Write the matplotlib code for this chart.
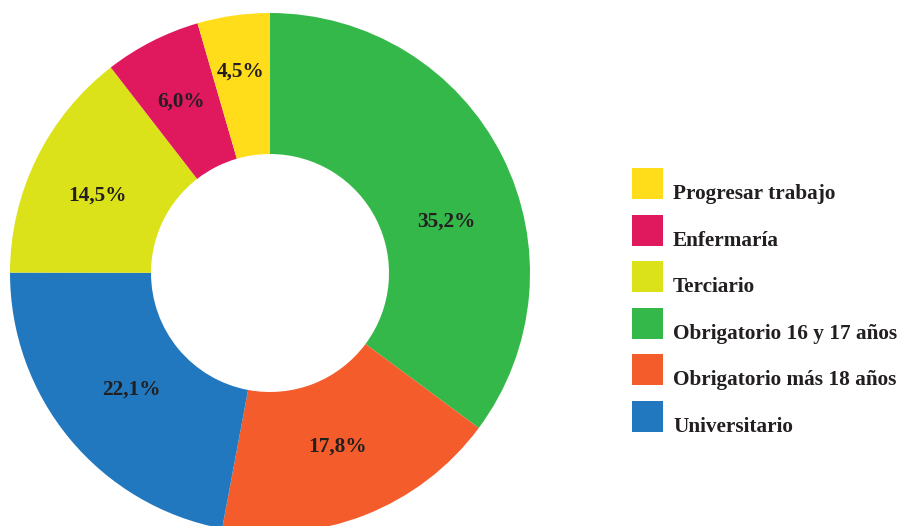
import matplotlib
matplotlib.use("Agg")
import matplotlib.pyplot as plt
from matplotlib.patches import Rectangle
import numpy as np

# ---- data ----
categories = ["Obrigatorio 16 y 17 años", "Obrigatorio más 18 años", "Universitario",
              "Terciario", "Enfermaría", "Progresar trabajo"]
values = [35.2, 17.8, 22.1, 14.5, 6.0, 4.5]
pct_labels = ["35,2%", "17,8%", "22,1%", "14,5%", "6,0%", "4,5%"]
colors = ["#35B84A", "#F55C2C", "#2178BE", "#DCE21A", "#E0195F", "#FFDD1A"]
legend_order = ["Progresar trabajo", "Enfermaría", "Terciario",
                "Obrigatorio 16 y 17 años", "Obrigatorio más 18 años", "Universitario"]

W, H = 899, 526
fig = plt.figure(figsize=(W / 100, H / 100), dpi=100)
plt.rcParams['font.family'] = ['Liberation Serif', 'DejaVu Serif']
txt_color = "#231F20"

# pie axes: centre at (270, 273) px from top, radius 260 px
cx, cy, R = 270, 273, 260
ax = fig.add_axes([(cx - R) / W, (H - cy - R) / H, 2 * R / W, 2 * R / H])
ax.axis("off")

wedges, _ = ax.pie(values, colors=colors, startangle=90, counterclock=False,
                   radius=1.0, wedgeprops=dict(width=1 - 119 / 260, linewidth=0),
                   normalize=True)
ax.set_xlim(-1, 1)
ax.set_ylim(-1, 1)
ax.set_aspect("auto")

# percentage labels
ang_shift = [-10, 0, 0, 1.5, 0, 0]
rad = [0.71, 0.71, 0.69, 0.73, 0.75, 0.79]
for w, lab, s, r in zip(wedges, pct_labels, ang_shift, rad):
    mid = np.deg2rad((w.theta1 + w.theta2) / 2 + s)
    ax.text(r * np.cos(mid), r * np.sin(mid) - 0.008, lab, ha="center", va="center",
            fontsize=15.3, fontweight="bold", color=txt_color)

# legend
cmap = dict(zip(categories, colors))
sq = 31
for i, name in enumerate(legend_order):
    top = 168 + i * 46.6
    fig.patches.append(Rectangle((632 / W, 1 - (top + sq) / H), sq / W, sq / H,
                                 transform=fig.transFigure, facecolor=cmap[name],
                                 edgecolor="none"))
    fig.text(673 / W, 1 - (top + sq) / H, name, ha="left", va="baseline",
             fontsize=15.3, fontweight="bold", color=txt_color)

fig.savefig("out.png", dpi=100)
